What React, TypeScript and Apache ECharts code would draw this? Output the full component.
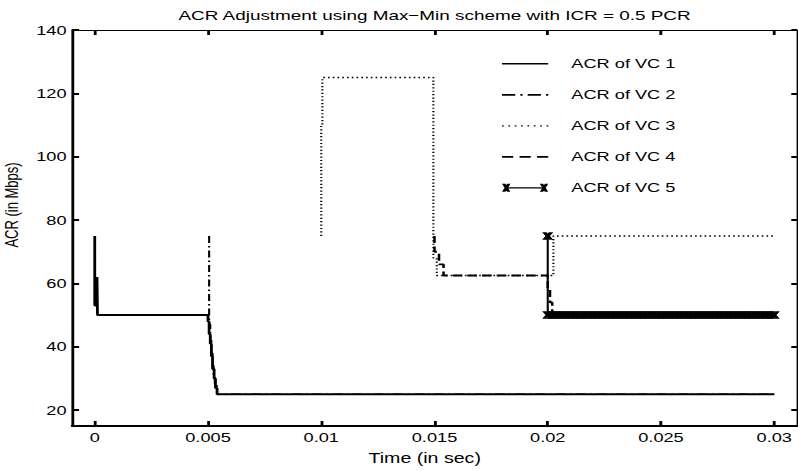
import React, { useEffect, useRef } from "react";
import * as echarts from "echarts";

const TITLE = "ACR Adjustment using Max\u2212Min scheme with ICR = 0.5 PCR";
const X_NAME = "Time (in sec)";
const Y_NAME = "ACR (in Mbps)";
const X_MIN = -0.001;
const X_MAX = 0.031;
const Y_MIN = 15;
const Y_MAX = 140;
const X_TICKS = [0, 0.005, 0.01, 0.015, 0.02, 0.025, 0.03];
const X_TICK_LABELS = ["0", "0.005", "0.01", "0.015", "0.02", "0.025", "0.03"];
const Y_TICKS = [20, 40, 60, 80, 100, 120, 140];
const Y_TICK_LABELS = ["20", "40", "60", "80", "100", "120", "140"];
const NAMES = ["ACR of VC 1", "ACR of VC 2", "ACR of VC 3", "ACR of VC 4", "ACR of VC 5"];

const VC1: [number, number][] = [
  [0, 75], [0, 53], [0.0001, 53], [0.0001, 62], [0.00012, 62], [0.00012, 50],
  [0.005, 50], [0.005, 48], [0.00505, 48], [0.00505, 44], [0.0051, 44], [0.0051, 41],
  [0.00515, 41], [0.00515, 37], [0.0052, 37], [0.0052, 33], [0.00527, 33], [0.00527, 30],
  [0.00533, 30], [0.00533, 27], [0.0054, 27], [0.0054, 25], [0.03, 25],
];
const VC2: [number, number][] = [
  [0.00505, 75], [0.00505, 47], [0.0051, 47], [0.0051, 42], [0.00515, 42], [0.00515, 38],
  [0.0052, 38], [0.0052, 34], [0.00525, 34], [0.00525, 31], [0.0053, 31], [0.0053, 28],
  [0.0054, 28], [0.0054, 25], [0.03, 25],
];
const VC3: [number, number][] = [
  [0.01, 75], [0.01, 110], [0.01005, 110], [0.01005, 125], [0.01495, 125], [0.01495, 68],
  [0.0151, 68], [0.0151, 62.5], [0.02025, 62.5], [0.02025, 75], [0.03, 75],
];
const VC4: [number, number][] = [
  [0.015, 75], [0.015, 70], [0.0152, 70], [0.0152, 66], [0.0154, 66], [0.0154, 62.5],
  [0.02, 62.5], [0.02, 58], [0.0201, 58], [0.0201, 54], [0.0202, 54], [0.0202, 50], [0.03, 50],
];
const VC5: [number, number][] = [
  [0.02, 75], [0.02, 50], [0.0202, 50], [0.0204, 50], [0.0206, 50], [0.0208, 50],
  [0.021, 50], [0.0212, 50], [0.0214, 50], [0.0216, 50], [0.0218, 50], [0.022, 50],
  [0.0222, 50], [0.0224, 50], [0.0226, 50], [0.0228, 50], [0.023, 50], [0.0232, 50],
  [0.0234, 50], [0.0236, 50], [0.0238, 50], [0.024, 50], [0.0242, 50], [0.0244, 50],
  [0.0246, 50], [0.0248, 50], [0.025, 50], [0.0252, 50], [0.0254, 50], [0.0256, 50],
  [0.0258, 50], [0.026, 50], [0.0262, 50], [0.0264, 50], [0.0266, 50], [0.0268, 50],
  [0.027, 50], [0.0272, 50], [0.0274, 50], [0.0276, 50], [0.0278, 50], [0.028, 50],
  [0.0282, 50], [0.0284, 50], [0.0286, 50], [0.0288, 50], [0.029, 50], [0.0292, 50],
  [0.0294, 50], [0.0296, 50], [0.0298, 50], [0.03, 50],
];

const FONT = "'Liberation Sans', Arial, Helvetica, sans-serif";
const STRETCH = 1.4;
const PAGE_W = 798;
const PAGE_H = 470;
const CHART_W = PAGE_W / STRETCH;

const X_MARK = "path://M0,0 L4,0 L10,10 L6,10 Z M6,0 L10,0 L4,10 L0,10 Z";
const xBar = (x0: number) =>
  `M${x0},0 L${x0 + 2.4},0 L${x0 + 6},8 L${x0 + 3.6},8 Z M${x0 + 3.6},0 L${x0 + 6},0 L${x0 + 2.4},8 L${x0},8 Z`;
const rect = (x0: number, x1: number, h: number) => `M${x0},0 L${x1},0 L${x1},${h} L${x0},${h} Z`;
const SOLID_ICON = `path://${rect(0, 33, 1.5)}`;
const DASHDOT_ICON = `path://${rect(0, 9, 1.6)} ${rect(12.5, 14, 1.6)} ${rect(17.5, 26.5, 1.6)} ${rect(30, 31.5, 1.6)}`;
const DOTTED_ICON = `path://${[0, 4.6, 9.2, 13.8, 18.4, 23, 27.6, 32.2].map((x) => rect(x, x + 1.2, 1.3)).join(" ")}`;
const DASHED_ICON = `path://${rect(0, 8, 1.8)} ${rect(12.5, 20.5, 1.8)} ${rect(25, 33, 1.8)}`;
const VC5_ICON = `path://${xBar(0)} ${xBar(27)} M3,3.4 L30,3.4 L30,4.6 L3,4.6 Z`;

const labelOf = (ticks: number[], labels: string[]) => (v: number) => {
  const i = ticks.findIndex((t) => Math.abs(t - v) < 1e-9);
  return i >= 0 ? labels[i] : "";
};

export default function App() {
  const ref = useRef<HTMLDivElement>(null);
  useEffect(() => {
    if (!ref.current) return;
    const chart = echarts.init(ref.current, undefined, { renderer: "svg" });
    const axisText = { color: "#000", fontFamily: FONT, fontSize: 13 };
    const lineCol = "#000";
    const black = { color: "#000" };
    const option: any = {
      animation: false,
      backgroundColor: "#fff",
      title: {
        text: TITLE,
        left: 310.4,
        top: 7,
        padding: 0,
        textAlign: "center",
        textStyle: { fontSize: 13.5, fontWeight: "normal", color: "#000", fontFamily: FONT, lineHeight: 16 },
      },
      grid: { left: 51.5, right: 0.8, top: 30, bottom: 44, containLabel: false, outerBoundsMode: "none" },
      legend: {
        orient: "vertical",
        left: 358.6,
        top: 56.8,
        padding: 0,
        itemWidth: 33,
        itemHeight: 8,
        itemGap: 17,
        selectedMode: false,
        textStyle: { fontSize: 13, color: "#000", fontFamily: FONT, lineHeight: 14, padding: [0, 0, 0, 11.5] },
        data: [
          { name: NAMES[0], icon: SOLID_ICON, itemStyle: black },
          { name: NAMES[1], icon: DASHDOT_ICON, itemStyle: black },
          { name: NAMES[2], icon: DOTTED_ICON, itemStyle: black },
          { name: NAMES[3], icon: DASHED_ICON, itemStyle: black },
          { name: NAMES[4], icon: VC5_ICON, itemStyle: black },
        ],
      },
      xAxis: [
        {
          type: "value",
          min: X_MIN,
          max: X_MAX,
          position: "bottom",
          name: X_NAME,
          nameLocation: "middle",
          nameGap: 25,
          nameTextStyle: { ...axisText, fontSize: 14, padding: [0, 14, 0, 0] },
          axisLine: { show: true, onZero: false, lineStyle: { color: lineCol, width: 2 } },
          axisTick: { show: true, inside: true, length: 5, customValues: X_TICKS, lineStyle: { color: lineCol, width: 2 } },
          axisLabel: { ...axisText, margin: 5, customValues: X_TICKS, formatter: labelOf(X_TICKS, X_TICK_LABELS) },
          splitLine: { show: false },
        },
        {
          type: "value",
          min: X_MIN,
          max: X_MAX,
          position: "top",
          axisLine: { show: true, onZero: false, lineStyle: { color: lineCol, width: 1 } },
          axisTick: { show: true, inside: true, length: 5, customValues: X_TICKS, lineStyle: { color: lineCol, width: 2 } },
          axisLabel: { show: false },
          splitLine: { show: false },
        },
      ],
      yAxis: [
        {
          type: "value",
          min: Y_MIN,
          max: Y_MAX,
          position: "left",
          name: Y_NAME,
          nameLocation: "middle",
          nameGap: 19.5,
          nameTextStyle: { ...axisText, fontSize: 13, padding: [0, 0, 0, 46] },
          axisLine: { show: true, onZero: false, lineStyle: { color: lineCol, width: 2 } },
          axisTick: { show: true, inside: true, length: 5, customValues: Y_TICKS, lineStyle: { color: lineCol, width: 2 } },
          axisLabel: { ...axisText, margin: 4, customValues: Y_TICKS, formatter: labelOf(Y_TICKS, Y_TICK_LABELS) },
          splitLine: { show: false },
        },
        {
          type: "value",
          min: Y_MIN,
          max: Y_MAX,
          position: "right",
          axisLine: { show: true, onZero: false, lineStyle: { color: lineCol, width: 1 } },
          axisTick: { show: true, inside: true, length: 4, customValues: Y_TICKS, lineStyle: { color: lineCol, width: 2 } },
          axisLabel: { show: false },
          splitLine: { show: false },
        },
      ],
      series: [
        {
          name: NAMES[0], type: "line", data: VC1, symbol: "none",
          itemStyle: black,
          lineStyle: { color: "#000", width: 2, type: "solid" },
        },
        {
          name: NAMES[1], type: "line", data: VC2, symbol: "none",
          itemStyle: black,
          lineStyle: { color: "#000", width: 1.5, type: [7, 3, 1.5, 3] },
        },
        {
          name: NAMES[2], type: "line", data: VC3, symbol: "none",
          itemStyle: black,
          lineStyle: { color: "#000", width: 1.5, type: [1.2, 2.2] },
        },
        {
          name: NAMES[3], type: "line", data: VC4, symbol: "none",
          itemStyle: black,
          lineStyle: { color: "#000", width: 1.8, type: [7, 3.5] },
        },
        {
          name: NAMES[4], type: "line", data: VC5, symbol: X_MARK, symbolSize: [8, 7.5],
          showSymbol: true, showAllSymbol: true,
          itemStyle: { color: "#000", borderWidth: 0 },
          lineStyle: { color: "#000", width: 1.5, type: "solid" },
        },
      ],
    };
    chart.setOption(option);
    return () => chart.dispose();
  }, []);

  return (
    <div style={{ position: "absolute", left: 0, top: 0, width: PAGE_W, height: PAGE_H, overflow: "hidden", background: "#fff" }}>
      <div
        ref={ref}
        style={{ width: CHART_W, height: PAGE_H, transform: `scaleX(${STRETCH})`, transformOrigin: "0 0" }}
      />
    </div>
  );
}
